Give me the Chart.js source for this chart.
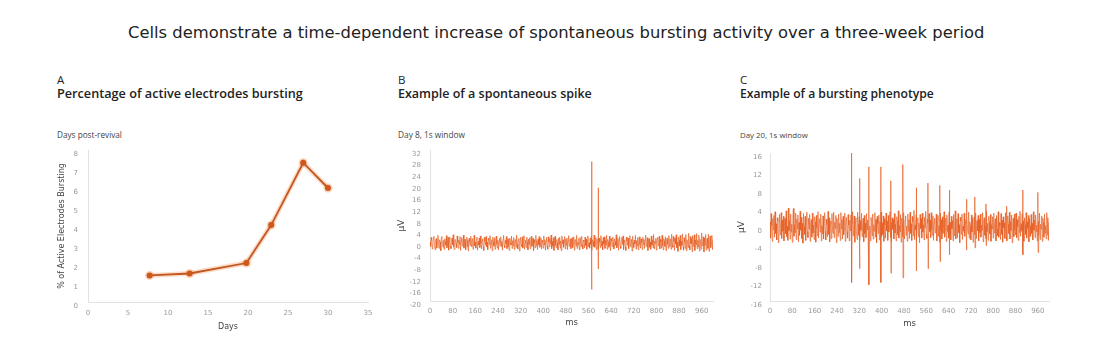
<!DOCTYPE html>
<html><head><meta charset="utf-8">
<script src="https://cdn.jsdelivr.net/npm/chart.js@4.4.1/dist/chart.umd.min.js"></script>
<style>
html,body{margin:0;padding:0;background:#fff;}
body{width:1114px;height:362px;position:relative;overflow:hidden;font-family:"DejaVu Sans",sans-serif;color:#222;}
.t{position:absolute;white-space:nowrap;line-height:1;}
canvas{position:absolute;top:130px;}
</style></head><body>
<div class="t" data-f="DejaVu Sans" data-x="128" data-b="38.3" data-w="857" data-wt="400">Cells demonstrate a time-dependent increase of spontaneous bursting activity over a three-week period</div>

<div class="t" data-f="Open Sans" data-x="57" data-b="84.3" data-fs="11.5" data-wt="500">A</div>
<div class="t" data-f="Open Sans" data-x="57" data-b="98.3" data-w="246" data-wt="600">Percentage of active electrodes bursting</div>
<div class="t" data-f="Open Sans" data-x="57" data-b="139" data-w="65" data-wt="400" style="color:#444">Days post-revival</div>

<div class="t" data-f="Open Sans" data-x="398" data-b="84.3" data-fs="11.5" data-wt="500">B</div>
<div class="t" data-f="Open Sans" data-x="398" data-b="98.3" data-w="194" data-wt="600">Example of a spontaneous spike</div>
<div class="t" data-f="Open Sans" data-x="398" data-b="139" data-w="67" data-wt="400" style="color:#444">Day 8, 1s window</div>

<div class="t" data-f="Open Sans" data-x="740" data-b="84.3" data-fs="11.5" data-wt="500">C</div>
<div class="t" data-f="Open Sans" data-x="740" data-b="98.3" data-w="194" data-wt="600">Example of a bursting phenotype</div>
<div class="t" data-f="Open Sans" data-x="740" data-b="139" data-w="68" data-wt="400" style="color:#444">Day 20, 1s window</div>

<canvas id="cA" width="340" height="210" style="left:40px"></canvas>
<canvas id="cB" width="340" height="210" style="left:380px"></canvas>
<canvas id="cC" width="340" height="210" style="left:720px"></canvas>
<script>
// ---- data ----
const daysPost = [7.7, 12.7, 19.8, 22.9, 26.9, 30];
const pctBursting = [1.4, 1.5, 2.05, 4.05, 7.33, 6.0];

const sampleStepMs = 2;
// Panel B, Day 8: background noise (µV), one sample every 2 ms
const spikeTraceDay8 = [
0.4,-1.2,1.9,0.8,-2.1,-0.5,1.6,2.3,-0.9,-2.4,0.7,1.5,-1.8,0.2,2.6,-0.6,-1.9,1.1,0.3,-2.7,1.8,2.2,-0.4,-1.5,0.9,
-2.2,1.4,0.6,-0.8,2.5,-1.7,-0.1,1.9,-2.5,0.8,2.1,-1.0,-2.0,0.5,1.7,-0.7,2.8,-1.4,-2.3,0.9,1.2,-0.3,-1.6,2.4,0.1,
-1.9,1.0,-0.5,2.2,-2.6,0.4,1.8,-1.1,-0.2,2.7,-1.8,0.6,1.3,-2.4,-0.6,2.0,0.9,-1.5,-2.8,1.6,0.3,-0.9,2.3,-1.3,0.7,
1.5,-2.2,-0.4,2.6,-1.0,0.2,-1.8,1.2,2.0,-2.5,0.5,-0.7,1.7,-1.6,2.4,-0.2,-2.1,0.8,1.4,-1.2,-2.6,1.9,0.6,-0.8,2.2,
-1.4,0.3,-2.3,1.6,0.9,-0.6,2.5,-1.9,-0.3,1.1,-2.7,2.0,0.4,-1.1,1.8,-2.2,0.7,2.3,-0.5,-1.7,1.0,-2.4,0.2,1.6,-0.9,
2.1,-1.3,0.5,-2.5,1.3,2.6,-0.8,-1.6,0.9,-0.2,2.2,-2.0,0.6,1.4,-1.4,-2.6,1.7,0.1,-0.7,2.4,-1.9,0.8,-1.0,1.9,-2.3,
0.6,1.2,-1.5,2.7,-0.4,-2.1,0.9,1.5,-2.8,0.3,1.9,-0.6,-1.3,2.1,-1.8,0.5,2.5,-2.2,-0.1,1.0,-1.6,2.0,0.4,-2.4,1.3,
-0.5,1.8,-2.0,0.7,2.3,-1.2,-0.3,1.6,-2.6,1.1,0.2,-1.7,2.6,-0.9,0.8,-2.3,1.4,-0.6,2.2,-1.5,-0.2,1.7,-2.1,0.9,0.4,
-1.8,2.4,-0.7,1.1,-2.5,0.6,1.9,-1.0,-2.2,2.1,0.3,-1.4,1.5,-0.4,2.7,-2.0,0.5,-1.1,1.8,-2.6,0.8,2.3,-0.9,-1.6,1.2,
0.1,-2.4,1.6,-0.5,2.0,-1.8,0.7,-2.7,2.4,-0.3,1.1,-1.5,0.4,2.2,-2.1,1.3,-0.8,1.7,-2.3,0.6,2.5,-1.2,-0.4,1.4,-2.0,
0.9,1.8,-1.6,-0.2,2.1,-2.5,0.5,1.2,-1.1,2.6,-1.9,0.3,-0.7,1.5,-2.4,1.9,0.2,-1.3,2.3,-0.6,-2.1,1.0,0.6,-1.7,2.0,
-0.9,1.3,-2.2,0.8,2.4,-1.4,0.1,-1.8,1.6,-0.5,2.2,-2.6,1.1,0.4,-1.2,2.7,-1.5,-0.3,1.9,-2.3,0.7,1.4,-0.8,-2.0,1.7,
0.3,-1.6,2.5,-1.1,0.6,-2.4,1.8,-0.4,2.1,-1.9,0.9,-0.7,2.6,-2.2,1.2,0.2,-1.5,2.3,-0.9,-2.7,1.5,0.8,-1.3,2.0,-0.2,
-2.1,1.4,0.5,-0.8,2.8,-1.7,-0.4,1.6,-2.5,0.9,2.2,-1.0,-1.9,0.6,1.9,-0.6,2.4,-2.3,0.3,1.1,-1.4,-2.6,2.0,0.7,-0.9,
1.7,-2.0,0.4,2.5,-1.3,-0.5,1.2,-2.8,2.3,0.1,-1.6,1.0,-0.3,2.6,-2.1,0.8,-1.1,1.9,-2.4,0.5,2.1,-0.7,-1.8,1.4,0.2,
-2.3,2.0,-0.6,1.3,-1.9,0.7,2.7,-1.2,-0.4,1.8,-2.6,0.9,1.5,-1.5,0.3,-2.2,2.4,-0.8,1.1,-1.7,2.9,-2.0,0.6,-0.2,1.6,
-2.5,0.8,1.9,-1.0,-0.3,2.3,-2.1,1.2,0.4,-1.8,2.6,-0.9,-2.4,1.5,0.7,-1.2,2.1,-2.7,0.9,1.7,-0.5,-1.9,2.5,-1.3,0.2,
1.4,-2.2,3.0,-0.7,-1.5,2.2,0.5,-2.6,1.6,-0.4,2.8,-1.7,0.3,-2.9,2.0,1.0,-1.1,2.6,-2.3,0.6,-0.8,3.1,-1.4,-2.5,1.8,
0.2,-1.9,2.9,-2.7,1.1,0.6,-1.6,3.3,-0.9,-2.4,2.2,-0.3,1.5,-3.0,2.5,-1.2,0.4,2.8,-2.6,1.0,-0.6,3.2,-2.0,0.9,-1.4,
2.7,-2.8,1.3,0.5,-2.2,3.4,-1.0,-0.4,2.1,-3.1,1.7,-0.8,2.9,-2.5,0.7,1.6,-1.9,3.0,-2.9,0.8,2.4,-1.6,-0.2,2.6,-2.3,
1.1
];
const day8SpikeMs = [571, 594];
const day8SpikePeak = [28, 19];
const day8SpikeTrough = [-16, -9];

// Panel C, Day 20: background noise (µV), one sample every 2 ms
const burstTraceDay20 = [
1.1,-2.4,2.9,0.3,-3.1,1.8,-0.6,2.5,-2.2,3.3,-1.4,0.7,-2.8,2.0,1.2,-3.4,0.4,2.7,-1.7,-0.3,3.1,-2.5,1.5,-0.9,2.3,
-3.0,0.9,1.9,-1.5,3.5,-2.1,0.2,-2.9,4.1,-0.8,1.4,-2.6,2.8,-1.1,0.6,-3.3,2.4,4.0,-2.0,0.5,-1.2,3.0,-2.7,1.7,-0.4,
2.6,-3.2,1.0,-1.8,3.4,-0.7,2.1,-2.5,0.8,-3.5,2.9,0.1,-1.6,2.3,-2.9,1.3,3.2,-1.0,-2.3,1.9,-0.5,2.7,-3.1,0.6,1.6,
-2.2,3.0,-1.3,0.4,-2.7,2.2,1.1,-3.3,2.5,-0.2,-1.9,3.3,-2.4,0.9,1.8,-1.1,2.8,-3.0,0.3,-1.5,2.4,-2.6,1.4,3.1,-0.9,
-2.8,1.7,0.5,-2.1,3.4,-1.6,2.0,-3.2,0.7,1.3,-2.5,2.9,-0.6,-1.4,3.2,-2.3,1.0,-0.3,2.5,-3.4,1.9,0.2,-2.0,2.8,-1.2,
0.8,-2.9,3.1,-0.4,1.6,-2.6,2.3,-1.7,-0.5,3.0,-3.1,1.2,2.1,-1.0,-2.4,2.7,0.4,-3.0,1.5,-0.8,2.6,-2.2,0.9,3.3,-1.9,
-0.2,2.4,-3.3,1.1,2.0,-1.3,-2.7,3.2,0.6,-1.8,2.2,-2.9,1.4,-0.7,3.0,-2.1,0.3,1.9,-3.2,2.5,-1.5,0.8,-2.3,2.9,-0.6,
1.5,-2.5,3.4,-1.2,0.2,-3.0,2.1,1.0,-1.9,2.8,-2.6,0.5,-0.9,3.1,-2.2,1.6,-3.4,2.3,0.7,-1.4,2.6,-2.8,1.2,-0.3,3.2,
-2.0,0.9,-1.6,2.4,-3.1,1.8,0.4,-2.4,3.0,-0.8,1.3,-2.9,2.5,-1.1,0.1,3.3,-2.3,1.0,-3.2,2.0,-0.5,1.7,-2.6,2.9,-1.3,
0.6,-3.0,2.2,1.4,-1.7,3.5,-2.4,0.3,-1.0,2.7,-3.3,1.9,0.8,-2.2,3.1,-0.7,-2.6,1.5,2.4,-1.8,0.2,-3.1,2.8,-0.9,1.6,
-2.5,3.2,-1.4,0.7,-2.9,2.3,1.1,-1.9,3.6,-2.7,0.4,-0.6,2.6,-3.0,1.3,2.0,-2.1,0.9,-3.4,2.7,-0.3,1.8,-2.4,3.0,-1.1,
0.5,-2.8,2.1,-0.2,3.4,-1.6,-2.5,1.7,0.8,-3.2,2.9,-1.0,1.5,-2.3,3.1,-0.6,-1.8,2.4,-2.9,0.9,1.9,-1.3,-0.4,2.8,-3.0,
1.2,2.5,-2.0,0.3,-3.3,3.0,-0.8,1.6,-2.6,2.2,-1.4,0.6,3.3,-2.2,-0.5,1.9,-3.1,2.6,-1.0,0.4,-2.4,3.2,-1.7,1.0,-2.8,
2.3,-0.4,1.4,-3.0,2.7,-1.9,0.7,3.5,-2.6,-0.1,1.8,-2.3,2.9,-1.2,0.5,-3.4,2.1,1.3,-1.6,2.8,-2.7,0.2,-0.9,3.0,-2.0,
0.9,1.6,-3.1,2.4,-0.6,-1.5,3.2,-2.4,1.1,0.3,-2.8,2.6,-1.1,1.9,-3.3,0.6,2.2,-1.7,-0.3,3.0,-2.5,1.4,-0.8,2.5,-3.0,
1.7,-1.2,2.8,-2.2,0.4,-0.7,3.1,-3.2,1.3,2.0,-1.8,0.2,-2.6,3.4,-1.0,0.8,-2.9,2.3,1.1,-1.5,2.7,-3.1,0.5,-0.4,2.2,
-2.4,3.0,-1.3,0.7,1.8,-3.0,2.5,-0.5,-1.9,3.3,-2.2,1.0,0.3,-2.7,2.9,-1.6,1.5,-3.3,2.2,-0.2,0.9,-2.5,3.1,-1.1,1.4,
-2.8,2.4,0.6,-1.4,3.2,-2.6,1.2,-0.8,2.6,-3.4,0.4,1.9,-2.1,2.8,-0.6,-1.7,3.0,-2.3,1.6,0.1,-2.9,2.3,-1.2,3.4,-2.0,
0.7,-0.9,2.9,-2.6,1.3,-3.1,2.0,0.5,-1.6,3.1,-2.4,1.1,-0.3,2.5,-3.2,1.8,0.2,-2.0,2.7,-1.4,0.8,-2.8,3.3,-0.7,1.5,
-2.3,2.6,-1.0,0.4,-3.0,2.2,1.2,-1.8,3.0,-2.7,0.6,-0.5,2.4,-3.1,1.9,0.9,-2.2,2.8,-1.3,0.3,-2.6,3.1,-1.7,2.0,-2.9,
1.0
];
const burstSpikeMs = [292, 321, 354, 397, 433, 476, 524, 566, 609, 643, 704, 734, 774, 848, 906, 960];
const burstSpikePeak = [16, 10.5, 13, 13, 10, 13.5, 8.5, 9.5, 9, 8, 6, 6.5, 5, 4.5, 8, 7.5];
const burstSpikeTrough = [-12, -9, -12.5, -12, -10, -11, -9.5, -9, -7.5, -6, -5, -4.5, -4, -3, -6, -5.5];

// ---- text fitting (layout only) ----
const mctx = document.createElement('canvas').getContext('2d');
document.querySelectorAll('.t').forEach(el => {
  const wt = el.dataset.wt || '400';
  const fam = el.dataset.f;
  let fs = parseFloat(el.dataset.fs || '12');
  if (el.dataset.w) {
    mctx.font = wt + ' 100px "' + fam + '"';
    const w100 = mctx.measureText(el.textContent).width;
    fs = 100 * parseFloat(el.dataset.w) / w100;
  }
  mctx.font = wt + ' ' + fs + 'px "' + fam + '"';
  const m = mctx.measureText(el.textContent);
  const asc = m.fontBoundingBoxAscent, desc = m.fontBoundingBoxDescent;
  const baseOff = (fs - (asc + desc)) / 2 + asc;
  el.style.fontFamily = '"' + fam + '"';
  el.style.fontSize = fs + 'px';
  el.style.fontWeight = wt;
  el.style.left = el.dataset.x + 'px';
  el.style.top = (parseFloat(el.dataset.b) - baseOff) + 'px';
});

const FAM = "'DejaVu Sans', sans-serif";
Chart.defaults.font.family = FAM;
const tickCol = '#9a9a9a', titleCol = '#444', axisCol = '#e2e2e2';

function buildTrace(noise, spikeMs, peaks, troughs) {
  const pts = noise.map((v, i) => ({ x: i * sampleStepMs, y: v }));
  spikeMs.forEach((t, k) => {
    pts.push({ x: t, y: peaks[k] });
    pts.push({ x: t + 0.8, y: troughs[k] });
  });
  return pts.sort((a, b) => a.x - b.x);
}

function traceChart(id, points, yMin, yMax, padRight, padTop, yTickPad, yTitlePad, xTitlePad) {
  return new Chart(document.getElementById(id), {
    type: 'line',
    data: { datasets: [{
      data: points,
      borderColor: 'rgba(230,94,36,0.68)', borderWidth: 1, pointRadius: 0, tension: 0
    }]},
    options: {
      responsive: false, animation: false, events: [],
      layout: { padding: { top: padTop, right: padRight, left: 0, bottom: 0 } },
      plugins: { legend: { display: false }, tooltip: { enabled: false } },
      scales: {
        x: { type: 'linear', min: 0, max: 1000,
             ticks: { stepSize: 80, includeBounds: false, padding: 6, font: { size: 7 }, color: tickCol, maxRotation: 0, autoSkip: false },
             grid: { display: false, drawTicks: false }, border: { color: axisCol },
             title: { display: true, text: 'ms', font: { size: 8.5 }, color: titleCol, padding: { top: 0, bottom: xTitlePad } },
             afterFit: s => { s.height = 39; } },
        y: { min: yMin, max: yMax,
             ticks: { stepSize: 4, padding: yTickPad, labelOffset: 4, font: { size: 7 }, color: tickCol, autoSkip: false },
             grid: { display: false, drawTicks: false }, border: { color: axisCol },
             title: { display: true, text: 'μV', font: { size: 9 }, color: titleCol, padding: { top: yTitlePad, bottom: 0 } },
             afterFit: s => { s.width = 50; } }
      }
    }
  });
}

// Panel A
const ptsA = daysPost.map((d, i) => ({ x: d, y: pctBursting[i] }));
new Chart(document.getElementById('cA'), {
  type: 'line',
  data: { datasets: [
    { data: ptsA, borderColor: 'rgba(246,168,118,0.4)', borderWidth: 5, pointRadius: 4.5, pointBackgroundColor: 'rgba(246,168,118,0.5)', pointBorderWidth: 0, order: 2 },
    { data: ptsA, borderColor: '#c2561f', borderWidth: 1.8, pointRadius: 3, pointBackgroundColor: '#cd581c', pointBorderColor: '#cd581c', pointBorderWidth: 0, order: 1 }
  ]},
  options: {
    responsive: false, animation: false, events: [],
    layout: { padding: { top: 20, right: 12, left: 0, bottom: 0 } },
    plugins: { legend: { display: false }, tooltip: { enabled: false } },
    scales: {
      x: { type: 'linear', min: 0, max: 35,
           ticks: { stepSize: 5, padding: 7, font: { size: 7 }, color: tickCol, maxRotation: 0 },
           grid: { display: false, drawTicks: false }, border: { color: axisCol },
           title: { display: true, text: 'Days', font: { size: 8 }, color: titleCol, padding: { top: 0, bottom: 8.5 } },
           afterFit: s => { s.height = 38; } },
      y: { min: 0, max: 8,
           ticks: { stepSize: 1, padding: 10, labelOffset: 4, font: { size: 7 }, color: tickCol },
           grid: { display: false, drawTicks: false }, border: { color: axisCol },
           title: { display: true, text: '% of Active Electrodes Bursting', font: { size: 8 }, color: titleCol, padding: { top: 17, bottom: 0 } },
           afterFit: s => { s.width = 48; } }
    }
  }
});

traceChart('cB', buildTrace(spikeTraceDay8, day8SpikeMs, day8SpikePeak, day8SpikeTrough), -20, 32, 7, 20, 9, 16.5, 12);
traceChart('cC', buildTrace(burstTraceDay20, burstSpikeMs, burstSpikePeak, burstSpikeTrough), -16, 16, 11, 23, 8, 16.3, 11);
</script>
</body></html>
